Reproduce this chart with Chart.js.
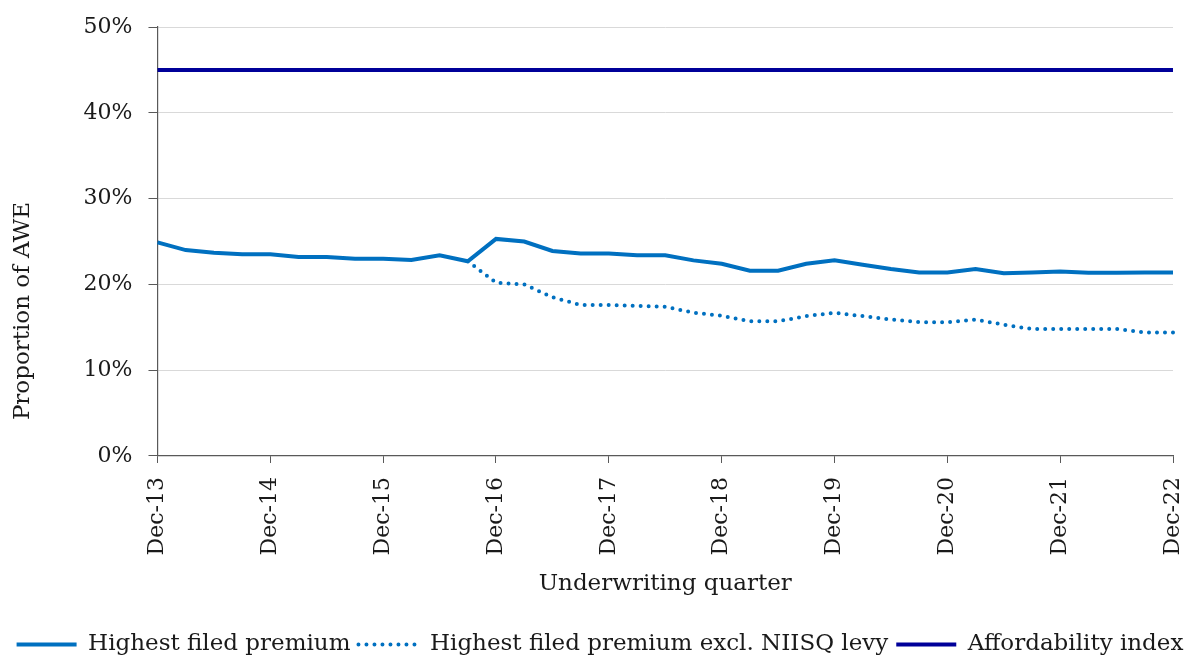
<!DOCTYPE html>
<html>
<head>
<meta charset="utf-8">
<script src="https://cdn.jsdelivr.net/npm/chart.js@4"></script>
<style>
  body { margin: 0; background: #fff; }
  #wrap { width: 1196px; height: 658px; }
</style>
</head>
<body>
<div id="wrap"><canvas id="chart1" width="1196" height="658"></canvas></div>
<script>
// quarters, Dec-13 .. Dec-22
var quarters = [
    'Dec-13','Mar-14','Jun-14','Sep-14','Dec-14','Mar-15','Jun-15','Sep-15',
    'Dec-15','Mar-16','Jun-16','Sep-16','Dec-16','Mar-17','Jun-17','Sep-17',
    'Dec-17','Mar-18','Jun-18','Sep-18','Dec-18','Mar-19','Jun-19','Sep-19',
    'Dec-19','Mar-20','Jun-20','Sep-20','Dec-20','Mar-21','Jun-21','Sep-21',
    'Dec-21','Mar-22','Jun-22','Sep-22','Dec-22'
]

var highestFiled = [
    24.9, 24.0, 23.7, 23.5, 23.5, 23.2, 23.2, 23.0,
    23.0, 22.85, 23.4, 22.7, 25.3, 25.0, 23.9, 23.6,
    23.6, 23.4, 23.4, 22.8, 22.4, 21.6, 21.6, 22.4,
    22.8, 22.3, 21.8, 21.4, 21.4, 21.8, 21.3, 21.4,
    21.5, 21.35, 21.35, 21.4, 21.4
]

var highestExclLevy = [
    null, null, null, null, null, null, null, null,
    null, null, null, 22.7, 20.2, 20.0, 18.5, 17.6,
    17.6, 17.5, 17.4, 16.7, 16.35, 15.7, 15.7, 16.3,
    16.7, 16.3, 15.9, 15.6, 15.6, 15.9, 15.3, 14.8,
    14.8, 14.8, 14.8, 14.4, 14.4
]

var affordability = [
    45, 45, 45, 45, 45, 45, 45, 45,
    45, 45, 45, 45, 45, 45, 45, 45,
    45, 45, 45, 45, 45, 45, 45, 45,
    45, 45, 45, 45, 45, 45, 45, 45,
    45, 45, 45, 45, 45
]

var yTicks = [0, 10, 20, 30, 40, 50]
var yTitle = 'Proportion of AWE'

var serif = 'DejaVu Serif'
var txt = '#1a1a1a'

// y title sits lower than chart.js centres it, so draw it here
// (the real scale title stays, transparent, to keep the space)
var yTitlePlugin = {
    id: 'yTitle',
    afterDraw: (chart) => {
        let c = chart.ctx
        let s = chart.scales.y
        c.save()
        c.translate(s.left + 19, 311)
        c.rotate(-Math.PI / 2)
        c.font = '23px "' + serif + '"'
        c.fillStyle = txt
        c.textAlign = 'center'
        c.textBaseline = 'middle'
        c.fillText(yTitle, 0, 0)
        c.restore()
    }
}

var ctx = document.getElementById('chart1')
var chart = new Chart(ctx, {
    type: 'line',
    data: {
        labels: quarters,
        datasets: [
            {
                label: 'Highest filed premium',
                data: highestFiled,
                borderColor: '#0070c0',
                backgroundColor: '#0070c0',
                borderWidth: 4,
                pointRadius: 0,
                tension: 0
            },
            {
                label: 'Highest filed premium excl. NIISQ levy',
                data: highestExclLevy,
                borderColor: '#0070c0',
                backgroundColor: '#0070c0',
                borderWidth: 4,
                borderDash: [0, 8],
                borderCapStyle: 'round',
                pointRadius: 0,
                tension: 0
            },
            {
                label: 'Affordability index',
                data: affordability,
                borderColor: '#000099',
                backgroundColor: '#000099',
                borderWidth: 4,
                pointRadius: 0,
                tension: 0
            }
        ]
    },
    plugins: [yTitlePlugin],
    options: {
        responsive: false,
        animation: false,
        layout: {
            padding: {left: 4, right: 0, top: 0, bottom: -8}
        },
        plugins: {
            legend: {
                position: 'bottom',
                labels: {
                    boxWidth: 60,
                    boxHeight: 0,
                    padding: 8,
                    color: txt,
                    font: {family: serif, size: 23, lineHeight: 1}
                }
            },
            tooltip: {enabled: false}
        },
        scales: {
            x: {
                offset: false,
                afterFit: (s) => { s.paddingRight = 23 },
                grid: {
                    drawOnChartArea: false,
                    color: '#595959',
                    tickLength: 7
                },
                border: {color: '#595959', width: 1.2},
                ticks: {
                    autoSkip: false,
                    maxRotation: 90,
                    minRotation: 90,
                    color: txt,
                    padding: 14,
                    font: {family: serif, size: 22},
                    callback: function(v, i) {
                        return i % 4 == 0 ? quarters[i] : null
                    }
                },
                title: {
                    display: true,
                    text: 'Underwriting quarter',
                    color: txt,
                    font: {family: serif, size: 23},
                    padding: {top: 1, bottom: 27}
                }
            },
            y: {
                min: yTicks[0],
                max: yTicks[yTicks.length - 1],
                afterFit: (s) => { s.paddingTop = 27 },
                grid: {
                    color: '#d9d9d9',
                    tickColor: '#595959',
                    tickLength: 9
                },
                border: {color: '#595959', width: 1.2},
                afterBuildTicks: function(axis) {
                    axis.ticks = yTicks.map(v => ({value: v}))
                },
                ticks: {
                    color: txt,
                    padding: 16,
                    font: {family: serif, size: 22},
                    callback: function(v) { return v + '%' }
                },
                title: {
                    display: true,
                    text: yTitle,
                    color: 'rgba(0,0,0,0)',
                    font: {family: serif, size: 23},
                    padding: {top: 0, bottom: 36}
                }
            }
        }
    }
})
</script>
</body>
</html>
